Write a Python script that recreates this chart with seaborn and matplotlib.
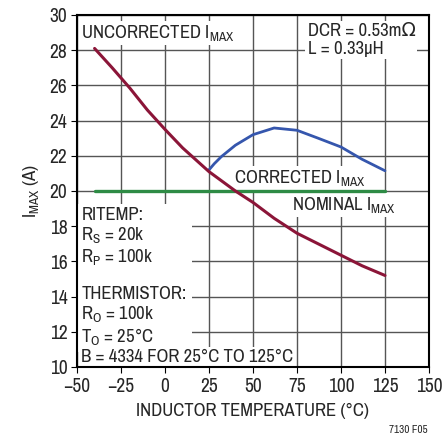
import pandas as pd
import seaborn as sns
import matplotlib.pyplot as plt
from matplotlib import font_manager

# values
uncorr_temp = [-40, -30, -20, -10, 0, 10, 25, 40, 50, 62, 75, 87, 100, 112, 125]
uncorr_imax = [28.1, 27.0, 25.85, 24.6, 23.5, 22.45, 21.1, 20.0, 19.35, 18.45, 17.6, 17.0, 16.35, 15.75, 15.2]

corr_temp = [25, 28, 32, 40, 50, 62, 75, 87, 100, 112, 125]
corr_imax = [21.2, 21.55, 21.95, 22.6, 23.2, 23.58, 23.45, 23.0, 22.5, 21.8, 21.15]

nominal_temp = [-40, 125]
nominal_imax = [20.0, 20.0]

x_ticks = [-50, -25, 0, 25, 50, 75, 100, 125, 150]
y_ticks = [10, 12, 14, 16, 18, 20, 22, 24, 26, 28, 30]

# pick a narrow sans that is installed
available = {f.name for f in font_manager.fontManager.ttflist}
narrow = 'DejaVu Sans'
for name in ['Liberation Sans Narrow', 'Archivo Narrow', 'Roboto Condensed',
             'PT Sans Narrow', 'Open Sans Condensed', 'DejaVu Sans Condensed']:
    if name in available:
        narrow = name
        break

sns.set_style('white')
plt.rcParams['font.family'] = [narrow, 'DejaVu Sans']
plt.rcParams['mathtext.fontset'] = 'custom'
plt.rcParams['mathtext.rm'] = narrow
plt.rcParams['mathtext.it'] = narrow
plt.rcParams['axes.unicode_minus'] = True

fs = 13.5

fig = plt.figure(figsize=(4.44, 4.36), dpi=100)
ax = fig.add_axes([0.1734, 0.1583, 0.7928, 0.8073])

df_u = pd.DataFrame({'temp': uncorr_temp, 'imax': uncorr_imax})
df_c = pd.DataFrame({'temp': corr_temp, 'imax': corr_imax})
df_n = pd.DataFrame({'temp': nominal_temp, 'imax': nominal_imax})

sns.lineplot(data=df_n, x='temp', y='imax', ax=ax, color='#2e8b45', lw=2.4, zorder=7)
sns.lineplot(data=df_c, x='temp', y='imax', ax=ax, color='#3556ad', lw=2.0, zorder=8)
sns.lineplot(data=df_u, x='temp', y='imax', ax=ax, color='#8b1538', lw=2.2, zorder=9)

ax.set_xlim(-50, 150)
ax.set_ylim(10, 30)
ax.set_xticks(x_ticks)
ax.set_yticks(y_ticks)
ax.grid(True, color='#555555', lw=1.0)
ax.set_axisbelow(True)
for s in ax.spines.values():
    s.set_color('black')
    s.set_linewidth(1.5)
    s.set_zorder(10)
ax.tick_params(axis='both', labelsize=14, length=4, color='black', direction='out',
               bottom=True, left=True, pad=3)

ax.set_xlabel('INDUCTOR TEMPERATURE (°C)', fontsize=fs, labelpad=5)
ax.set_ylabel(r'I$_{\mathrm{MAX}}$ (A)', fontsize=fs, labelpad=6)

box = dict(facecolor='white', edgecolor='none', pad=1.5)
ax.text(-47.5, 29.55, r'UNCORRECTED I$_{\mathrm{MAX}}$', fontsize=fs, va='top', ha='left',
        bbox=box, zorder=6)
ax.text(81, 29.55, 'DCR = 0.53mΩ\nL = 0.33µH', fontsize=fs, va='top', ha='left',
        linespacing=1.15, bbox=box, zorder=6)
ax.text(76.5, 20.15, r'CORRECTED I$_{\mathrm{MAX}}$', fontsize=fs, va='bottom', ha='center',
        bbox=box, zorder=6)
ax.text(102, 19.75, r'NOMINAL I$_{\mathrm{MAX}}$', fontsize=fs, va='top', ha='center',
        bbox=box, zorder=6)
notes = ('RITEMP:\n'
         r'R$_{\mathrm{S}}$ = 20k' '\n'
         r'R$_{\mathrm{P}}$ = 100k' '\n'
         '\n'
         'THERMISTOR:\n'
         r'R$_{\mathrm{O}}$ = 100k' '\n'
         r'T$_{\mathrm{O}}$ = 25°C')
ax.text(-47.5, 11.15, notes, fontsize=fs, va='bottom', ha='left', linespacing=1.12,
        bbox=dict(facecolor='white', edgecolor='none', pad=4), zorder=6)
ax.text(-47.5, 10.1, 'B = 4334 FOR 25°C TO 125°C', fontsize=fs, va='bottom', ha='left',
        bbox=box, zorder=6)

fig.text(0.962, 0.014, '7130 F05', fontsize=8, ha='right', va='center')

fig.savefig('out.png', dpi=100)
